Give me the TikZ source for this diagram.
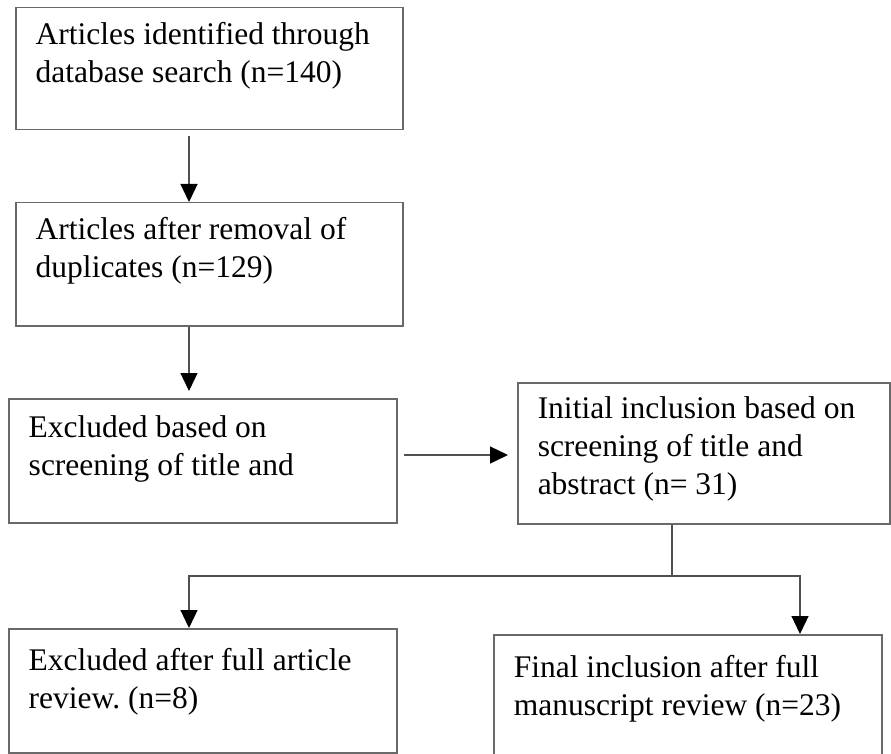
\documentclass[tikz,border=0pt]{standalone}
\usepackage{fontspec}
\setmainfont{Liberation Serif}
\usetikzlibrary{arrows.meta}
\frenchspacing

\definecolor{boxgray}{RGB}{105,105,105}
\definecolor{linegray}{RGB}{80,80,80}

% text of a box: width, height, baseline of first line, lines
\newcommand{\boxtext}[4]{\parbox[c][#2][t]{#1}{\raggedright\leftskip=20pt\rule{0pt}{#3}#4}}

\tikzset{
  flowbox/.style={draw=boxgray, line width=1.5pt, anchor=north west, inner sep=0pt,
    font=\fontsize{31.5}{38}\selectfont},
  flowline/.style={draw=linegray, line width=1.3pt},
  flowarrow/.style={flowline, -{Triangle[length=18pt,width=17pt,color=black]}}
}

\begin{document}
\begin{tikzpicture}[x=1pt, y=-1pt]
\useasboundingbox (0,0) rectangle (891,754);
\clip (0,0) rectangle (891,754);
\node[flowbox] (search) at (15,7) {\boxtext{387pt}{122pt}{37pt}{Articles identified through\\ database search (n=140)}};
\node[flowbox] (dedup) at (15,202) {\boxtext{387pt}{123pt}{37pt}{Articles after removal of\\ duplicates (n=129)}};
\node[flowbox] (screen) at (8,398) {\boxtext{388pt}{124pt}{39pt}{Excluded based on\\ screening of title and}};
\node[flowbox] (initial) at (517,382) {\boxtext{372pt}{141pt}{36pt}{Initial inclusion based on\\ screening of title and\\ abstract (n= 31)}};
\node[flowbox] (exclfull) at (8,628) {\boxtext{388pt}{124pt}{42pt}{Excluded after full article\\ review. (n=8)}};
\node[flowbox] (final) at (493,634) {\boxtext{388pt}{135pt}{43pt}{Final inclusion after full\\ manuscript review (n=23)}};

\coordinate (colx) at (189,0);
\coordinate (colr) at (800,0);
\coordinate (split) at (672,576);

\draw[flowarrow, shorten <=6pt] (search.south -| colx) -- (dedup.north -| colx);
\draw[flowarrow, shorten >=7pt] (dedup.south -| colx) -- (screen.north -| colx);
\draw[flowarrow, shorten <=6pt, shorten >=9pt] (screen.east |- 0,455) -- (initial.west |- 0,455);
\draw[flowline] (initial.south -| split) -- (split);
\draw[flowarrow] (split) -| (exclfull.north -| colx);
\draw[flowarrow] (split) -| (final.north -| colr);
\end{tikzpicture}
\end{document}
